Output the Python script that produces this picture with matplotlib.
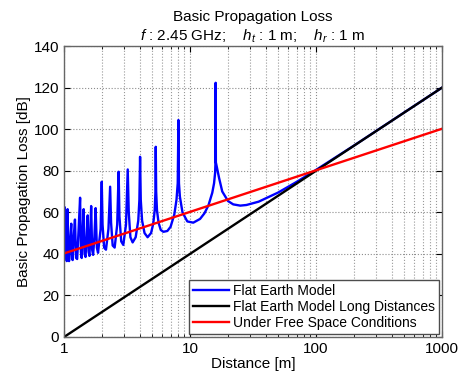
import numpy as np
import matplotlib
matplotlib.use("Agg")
from matplotlib import pyplot as plt
from matplotlib.ticker import FixedLocator, FixedFormatter, LogLocator, NullFormatter

plt.rcParams['font.family'] = ['Liberation Sans', 'DejaVu Sans']
plt.rcParams['mathtext.fontset'] = 'custom'
plt.rcParams['mathtext.rm'] = 'Liberation Sans'
plt.rcParams['mathtext.it'] = 'Liberation Sans:italic'

# Flat earth model (troughs, shoulders and spikes)
dist_flat = [1.00, 1.005, 1.01, 1.02, 1.035, 1.05, 1.066, 1.08, 1.095, 1.115,
             1.14, 1.155, 1.17, 1.19, 1.22, 1.245, 1.27, 1.30, 1.34, 1.36, 1.38,
             1.40, 1.43, 1.455, 1.48, 1.51, 1.54, 1.565, 1.59, 1.615, 1.64,
             1.67, 1.70, 1.74, 1.78, 1.82, 1.86, 1.95, 1.99, 2.02,
             2.08, 2.15, 2.25, 2.32, 2.36, 2.43, 2.52, 2.64, 2.71, 2.75, 2.84,
             2.95, 3.10, 3.20, 3.26, 3.36, 3.50, 3.70, 3.88, 3.96, 4.01, 4.06,
             4.16, 4.35, 4.60, 4.90, 5.10, 5.24, 5.31, 5.34, 5.38, 5.46, 5.62,
             5.85, 6.14, 6.60, 7.00, 7.50, 7.80, 7.98, 8.08, 8.16, 8.30, 8.70,
             9.50, 10.6, 12.0, 13.0, 14.0, 15.0, 15.5, 15.8, 15.9, 15.95, 16.02,
             16.4, 17.0, 18.0, 20.0, 22.0, 25.0, 28.0, 35.0, 50.0, 70.0, 100.0,
             200.0, 500.0, 1000.0]
loss_flat = [40.0, 52.0, 62.5, 38.0, 48.0, 36.5, 61.5, 40.0, 36.5, 46.0,
             54.5, 37.5, 37.0, 47.0, 56.5, 38.0, 37.5, 50.0, 67.0, 41.0, 38.0,
             49.0, 61.5, 40.0, 38.5, 48.0, 58.5, 41.0, 39.0, 50.0, 63.0,
             42.0, 39.5, 48.0, 62.0, 43.0, 40.5, 52.0, 74.7, 54.0,
             43.0, 42.0, 52.0, 72.3, 55.0, 44.0, 43.0, 54.0, 79.5, 58.0, 46.0,
             44.3, 54.0, 80.6, 60.0, 48.0, 45.5, 48.0, 56.0, 66.0, 86.7, 66.0,
             56.0, 50.0, 48.0, 50.0, 54.5, 61.0, 70.0, 91.5, 70.0, 61.0, 55.0,
             51.5, 50.6, 51.0, 53.0, 59.0, 66.0, 74.0, 104.4, 74.0, 67.5, 60.0,
             55.6, 55.0, 56.8, 59.5, 63.4, 69.4, 74.0, 79.0, 84.0, 122.3, 84.0,
             81.0, 76.4, 70.0, 65.4, 63.8, 63.2, 63.5, 65.1, 69.5, 74.6, 80.4,
             92.1, 108.0, 120.0]

# Flat earth model, long distances
dist_long = [1, 1000]
loss_long = [0, 120]

# Free space
dist_free = [1, 1000]
loss_free = [40.2, 100.2]

fig = plt.figure(figsize=(4.61, 3.74), dpi=100)
ax = fig.add_axes([0.139, 0.099, 0.820, 0.778])

ax.plot(dist_flat, loss_flat, color='#0000ff', lw=1.7, label='Flat Earth Model')
ax.plot(dist_long, loss_long, color='black', lw=1.7, label='Flat Earth Model Long Distances')
ax.plot(dist_free, loss_free, color='#ff0000', lw=1.7, label='Under Free Space Conditions')

ax.set_xscale('log')
ax.set_xlim(1, 1000)
ax.set_ylim(0, 140)
ax.xaxis.set_major_locator(FixedLocator([1, 10, 100, 1000]))
ax.xaxis.set_major_formatter(FixedFormatter(['1', '10', '100', '1000']))
ax.xaxis.set_minor_locator(LogLocator(base=10, subs=np.arange(2, 10)))
ax.xaxis.set_minor_formatter(NullFormatter())
ax.set_yticks(np.arange(0, 141, 20))

ax.grid(True, which='major', linestyle=':', color='0.55', lw=0.8)
ax.grid(True, which='minor', axis='x', linestyle=':', color='0.6', lw=0.8)
ax.tick_params(which='both', direction='in', top=True, right=True, labelsize=11)
ax.tick_params(which='major', length=4)
ax.tick_params(which='minor', length=2)
for s in ax.spines.values():
    s.set_color('0.4')
    s.set_linewidth(1.0)

ax.set_xlabel('Distance [m]', fontsize=11, labelpad=1)
ax.set_ylabel('Basic Propagation Loss [dB]', fontsize=11, labelpad=2)
ax.set_title('Basic Propagation Loss\n'
             r'$f$ : 2.45 GHz;    $h_t$ : 1 m;    $h_r$ : 1 m',
             fontsize=11, pad=4, linespacing=1.3)

leg = ax.legend(loc='lower right', fontsize=10, frameon=True, fancybox=False,
                edgecolor='0.3', framealpha=1, borderaxespad=0.2,
                handlelength=2.6, labelspacing=0.15, borderpad=0.3,
                handletextpad=0.3)
leg.get_frame().set_linewidth(1.0)

plt.savefig('out.png', dpi=100)
